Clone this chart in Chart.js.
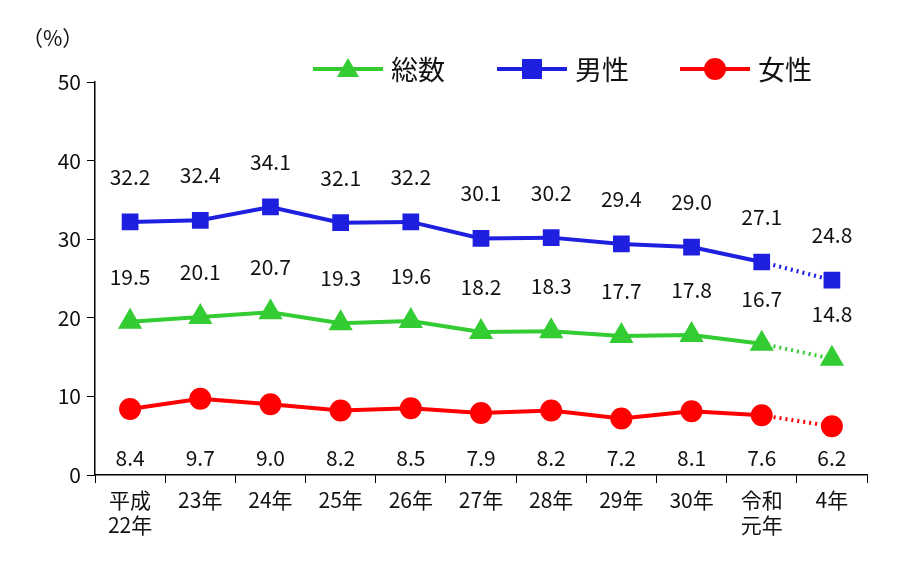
<!DOCTYPE html>
<html><head><meta charset="utf-8">
<script src="https://cdn.jsdelivr.net/npm/chart.js@4/dist/chart.umd.min.js"></script>
<style>html,body{margin:0;background:#fff}</style></head>
<body><canvas id="c" width="900" height="575"></canvas>
<script>
const categories=[["平成","22年"],"23年","24年","25年","26年","27年","28年","29年","30年",["令和","元年"],"4年"];
const total=[19.5,20.1,20.7,19.3,19.6,18.2,18.3,17.7,17.8,16.7,14.8];
const male=[32.2,32.4,34.1,32.1,32.2,30.1,30.2,29.4,29.0,27.1,24.8];
const female=[8.4,9.7,9.0,8.2,8.5,7.9,8.2,7.2,8.1,7.6,6.2];
const FONT='"Noto Sans CJK JP","Noto Sans",sans-serif';
const last=categories.length-2;
function ds(label,data,color,style,r){return{label,data,borderColor:color,backgroundColor:color,pointStyle:style,pointRadius:r,pointHoverRadius:r,borderWidth:4,
 segment:{borderDash:c=>c.p0DataIndex>=last?[2,4]:undefined}};}
const labelsPlugin={id:'lbl',afterDatasetsDraw(ch){const ctx=ch.ctx;ctx.save();ctx.font='21px '+FONT;ctx.fillStyle='#111';ctx.textAlign='center';ctx.textBaseline='middle';
 ch.data.datasets.forEach((d,i)=>{const m=ch.getDatasetMeta(i);m.data.forEach((p,j)=>{const y=i==2?ch.scales.y.getPixelForValue(2.2):p.y-45;ctx.fillText(d.data[j].toFixed(1),p.x,y);});});
 const items=[[0,'総数',313],[1,'男性',497],[2,'女性',680]];
 ctx.font='27px '+FONT;ctx.textAlign='left';
 items.forEach(([i,t,x])=>{const d=ch.data.datasets[i];ctx.strokeStyle=d.borderColor;ctx.fillStyle=d.borderColor;ctx.lineWidth=4;ctx.beginPath();ctx.moveTo(x,69);ctx.lineTo(x+70,69);ctx.stroke();
  const cx=x+35,cy=69;ctx.beginPath();
  if(i==0){ctx.moveTo(cx,cy-11);ctx.lineTo(cx+11,cy+8);ctx.lineTo(cx-11,cy+8);ctx.closePath();}
  else if(i==1){ctx.rect(cx-10,cy-10,20,20);} else {ctx.arc(cx,cy,11,0,Math.PI*2);}
  ctx.fill();ctx.fillStyle='#111';ctx.fillText(t,x+78,70);});
 ctx.font='21px '+FONT;ctx.fillText('（%）',22,38);
 ctx.restore();}};
new Chart(document.getElementById('c'),{type:'line',
 data:{labels:categories,datasets:[ds('総数',total,'#33cc33','triangle',10),ds('男性',male,'#1f1fe0','rect',9),ds('女性',female,'#ff0000','circle',9)]},
 options:{responsive:false,animation:false,layout:{padding:{top:82,right:33,left:0,bottom:0}},
  plugins:{legend:{display:false},tooltip:{enabled:false}},
  scales:{
   x:{offset:true,grid:{display:true,drawOnChartArea:false,offset:true,color:'#000',tickLength:8,tickColor:'#000'},border:{color:'#000',width:1.5},
      ticks:{color:'#111',font:{size:21,family:FONT},maxRotation:0,autoSkip:false,padding:4},afterFit(s){s.height=100;}},
   y:{min:0,max:50,ticks:{stepSize:10,color:'#111',font:{size:21,family:FONT},padding:6},grid:{drawOnChartArea:false,color:'#000',tickLength:8},border:{color:'#000',width:1.5},afterFit(s){s.width=95;}}
  }},plugins:[labelsPlugin]});
</script></body></html>
